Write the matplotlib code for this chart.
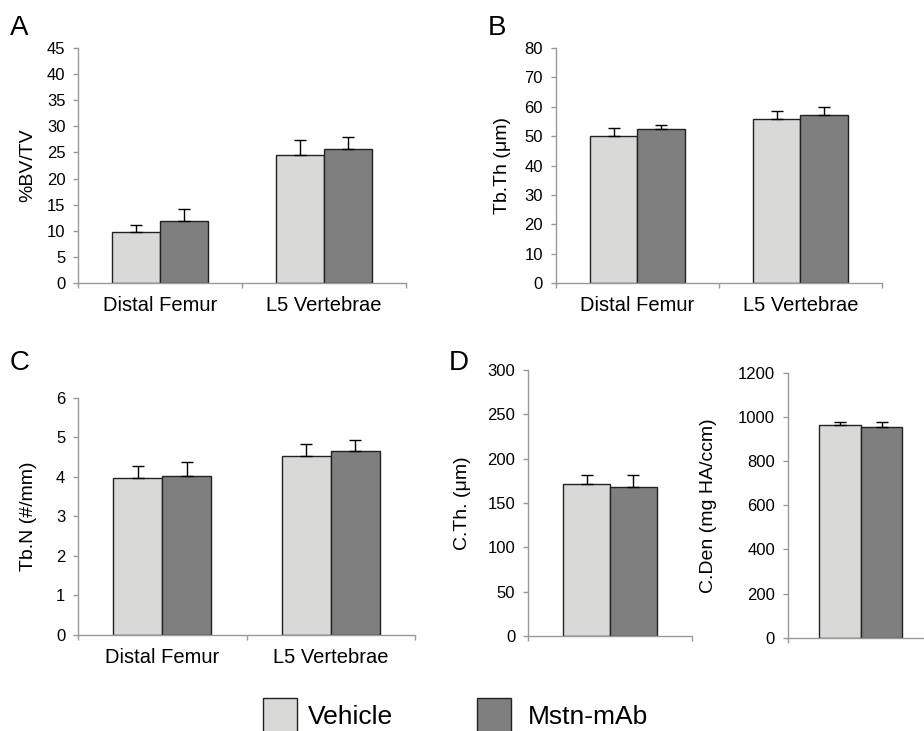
import matplotlib
matplotlib.use('Agg')
import matplotlib.pyplot as plt
from matplotlib.patches import Rectangle

plt.rcParams['font.family'] = ['Liberation Sans', 'DejaVu Sans']

# data
sites = ['Distal Femur', 'L5 Vertebrae']
groups = ['Vehicle', 'Mstn-mAb']
colors = ['#d9d9d7', '#7f7f7f']

bvtv_mean = [[9.8, 24.6], [11.9, 25.7]]
bvtv_err = [[1.3, 2.8], [2.3, 2.2]]

tbth_mean = [[50.0, 56.0], [52.3, 57.3]]
tbth_err = [[2.7, 2.7], [1.4, 2.7]]

tbn_mean = [[3.97, 4.52], [4.01, 4.65]]
tbn_err = [[0.31, 0.30], [0.37, 0.28]]

cth_mean = [171, 168]
cth_err = [11, 14]

cden_mean = [963, 952]
cden_err = [12, 23]

SPINE = '#999999'
TICK_FS = 12
CAT_FS = 14.5
YLAB_FS = 14


def style_axis(ax, ymax, ystep):
    for s in ['top', 'right']:
        ax.spines[s].set_visible(False)
    for s in ['left', 'bottom']:
        ax.spines[s].set_color(SPINE)
        ax.spines[s].set_linewidth(1.0)
    ax.set_ylim(0, ymax)
    ax.set_yticks(list(range(0, ymax + 1, ystep)))
    ax.tick_params(axis='y', direction='out', length=3.6, width=1.0, color=SPINE,
                   labelsize=TICK_FS, pad=5.5)
    ax.tick_params(axis='x', which='minor', direction='out', length=3.6, width=1.0,
                   color=SPINE)


def grouped_plot(ax, means, errs, ymax, ystep, ylabel, labelx):
    w = 0.29
    x = list(range(len(sites)))
    for i, g in enumerate(groups):
        pos = [xi + (i - 0.5) * w for xi in x]
        ax.bar(pos, means[i], width=w, color=colors[i], edgecolor='#222222',
               linewidth=1.0, zorder=2)
        ax.errorbar(pos, means[i], yerr=[[0] * len(x), errs[i]], fmt='none',
                    ecolor='black', elinewidth=1.0, capsize=4, capthick=1.0, zorder=3)
    ax.set_xlim(-0.5, len(sites) - 0.5)
    style_axis(ax, ymax, ystep)
    ax.set_xticks(x)
    ax.set_xticklabels(sites, fontsize=CAT_FS)
    ax.set_xticks([-0.5, 0.5, 1.5], minor=True)
    ax.tick_params(axis='x', which='major', length=0, pad=9.5)
    ax.set_ylabel(ylabel, fontsize=YLAB_FS)
    ax.yaxis.set_label_coords(labelx, 0.5)


def single_plot(ax, means, errs, ymax, ystep, ylabel, labelx):
    w = 0.285
    for i, g in enumerate(groups):
        pos = (i - 0.5) * w
        ax.bar([pos], [means[i]], width=w, color=colors[i], edgecolor='#222222',
               linewidth=1.0, zorder=2)
        ax.errorbar([pos], [means[i]], yerr=[[0], [errs[i]]], fmt='none',
                    ecolor='black', elinewidth=1.0, capsize=4, capthick=1.0, zorder=3)
    ax.set_xlim(-0.5, 0.5)
    style_axis(ax, ymax, ystep)
    ax.set_xticks([])
    ax.set_xticks([-0.5, 0.5], minor=True)
    ax.set_ylabel(ylabel, fontsize=YLAB_FS)
    ax.yaxis.set_label_coords(labelx, 0.5)


W, H = 924, 731
fig = plt.figure(figsize=(W / 100, H / 100), dpi=100)


def add_ax(left, right, top, bottom):
    return fig.add_axes([left / W, 1 - bottom / H, (right - left) / W, (bottom - top) / H])


axA = add_ax(78, 406, 48, 283)
axB = add_ax(555.7, 882, 48, 283)
axC = add_ax(78, 415, 397.7, 635)
axD1 = add_ax(528, 692, 370, 636)
axD2 = add_ax(787.7, 933.7, 372.7, 637.7)

grouped_plot(axA, bvtv_mean, bvtv_err, 45, 5, '%BV/TV', -0.128)
grouped_plot(axB, tbth_mean, tbth_err, 80, 10, 'Tb.Th (μm)', -0.1385)
grouped_plot(axC, tbn_mean, tbn_err, 6, 1, 'Tb.N (#/mm)', -0.122)
single_plot(axD1, cth_mean, cth_err, 300, 50, 'C.Th. (μm)', -0.35)
single_plot(axD2, cden_mean, cden_err, 1200, 200, 'C.Den (mg HA/ccm)', -0.484)

# panel letters
for letter, x, y in [('A', 10, 35), ('B', 488, 35), ('C', 10, 370), ('D', 449, 370)]:
    fig.text(x / W, 1 - y / H, letter, fontsize=20, va='baseline', ha='left')

# legend
for i, g in enumerate(groups):
    bx = [263, 477][i]
    tx = [308, 528][i]
    fig.add_artist(Rectangle((bx / W, -0.02), 34 / W, (731 - 698) / H + 0.02,
                             transform=fig.transFigure, facecolor=colors[i],
                             edgecolor='#222222', linewidth=1.0))
    fig.text(tx / W, 1 - 724 / H, g, fontsize=19, va='baseline', ha='left')

fig.savefig('out.png', dpi=100)
